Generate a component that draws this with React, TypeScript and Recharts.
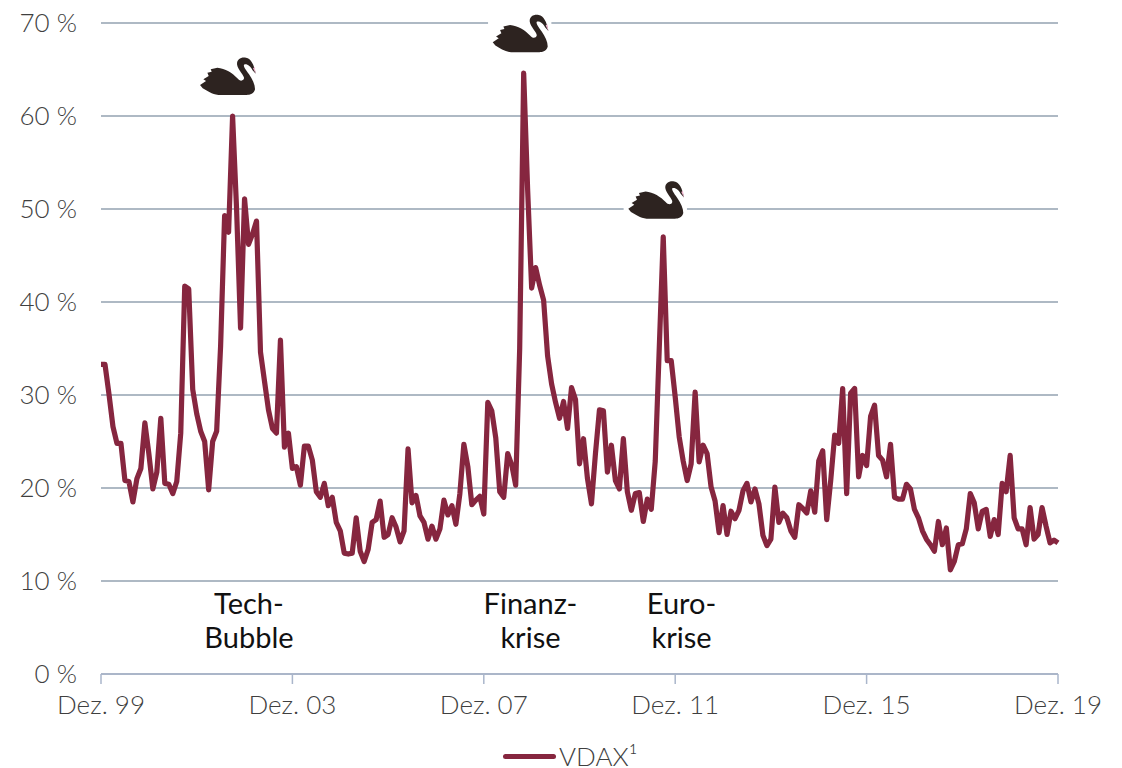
import React from 'react';
import { LineChart, Line, XAxis, YAxis, CartesianGrid, ReferenceDot, Legend } from 'recharts';

// monthly VDAX readings, Dez. 99 to Dez. 19
const vdax = [
  33.3, 33.3, 30.1, 26.6, 24.8, 24.8, 20.8, 20.7, 18.5, 21, 22.1, 27, 23.7, 19.9, 21.7, 27.5, 20.5, 20.4, 19.4, 20.7,
  25.9, 41.7, 41.4, 30.6, 28, 26.1, 25, 19.8, 25, 26.1, 35.3, 49.3, 47.5, 60, 50, 37.2, 51.1, 46.2, 47.3, 48.7,
  34.6, 31.5, 28.4, 26.4, 25.9, 35.9, 24.4, 25.9, 22.1, 22.3, 20.3, 24.5, 24.5, 23, 19.6, 19, 20.5, 18.1, 19, 16.3,
  15.4, 13, 12.9, 13, 16.8, 13.2, 12.1, 13.4, 16.3, 16.6, 18.6, 14.7, 15, 16.8, 15.8, 14.2, 15.4, 24.2, 18.4, 19.2,
  17, 16.3, 14.5, 15.9, 14.5, 15.6, 18.7, 17.1, 18.1, 16.1, 19.4, 24.7, 22.3, 18.2, 18.7, 19.1, 17.2, 29.2, 28.3, 25.4,
  19.6, 19, 23.7, 22.5, 20.3, 35, 64.6, 52, 41.5, 43.7, 41.8, 40.2, 34.2, 31.2, 29.2, 27.5, 29.3, 26.4, 30.8, 29.5,
  22.6, 25.3, 21, 18.3, 23.7, 28.4, 28.3, 21.7, 24.6, 20.8, 19.9, 25.3, 19.6, 17.6, 19.4, 19.5, 16.4, 18.8, 17.7, 22.9,
  35, 47, 33.7, 33.7, 29.8, 25.5, 22.9, 20.8, 22.6, 30.3, 22.8, 24.6, 23.7, 20.1, 18.6, 15.2, 18.1, 15, 17.5, 16.7,
  17.6, 19.7, 20.5, 18.5, 19.9, 18.3, 14.9, 13.8, 14.5, 20.1, 16.3, 17.3, 16.8, 15.4, 14.7, 18.2, 17.8, 17.3, 19.7, 17.4,
  22.9, 24, 16.6, 20.8, 25.7, 24.8, 30.7, 19.4, 30.2, 30.7, 21.2, 23.5, 22.4, 27.7, 28.9, 23.5, 23, 21.2, 24.7, 19,
  18.8, 18.8, 20.4, 19.9, 17.7, 16.8, 15.4, 14.5, 13.9, 13.2, 16.4, 13.9, 15.7, 11.2, 12.1, 13.9, 14, 15.6, 19.4, 18.4,
  15.6, 17.5, 17.7, 14.8, 16.6, 15, 20.5, 19.6, 23.5, 16.8, 15.6, 15.6, 13.9, 17.9, 14.5, 15, 17.9, 15.9, 14.1, 14.4,
  14.1,
];

const xTicks = [0, 48, 96, 144, 192, 240];
const xLabels = ['Dez. 99', 'Dez. 03', 'Dez. 07', 'Dez. 11', 'Dez. 15', 'Dez. 19'];
const yTicks = [0, 10, 20, 30, 40, 50, 60, 70];

// where the swans sit, as [month, percent]
const swans = [
  [31.7, 64.3],
  [105.1, 68.9],
  [139.1, 51],
];

// crisis captions, as [month, percent, text]
const captions: [number, number, string][] = [
  [37.1, 7.7, 'Tech-'],
  [37.1, 4, 'Bubble'],
  [107.7, 7.7, 'Finanz-'],
  [107.7, 4, 'krise'],
  [145.6, 7.7, 'Euro-'],
  [145.6, 4, 'krise'],
];

const data = vdax.map((value, month) => ({ month, value }));

const FONT = 'Lato, "Open Sans", sans-serif';
const LINE_COLOR = '#86263f';
const TEXT_COLOR = '#3f3f3f';

const SwanShape = ({ cx, cy }: any) => (
  <g transform={`translate(${cx - 40.7},${cy - 28.3}) scale(0.3333)`}>
    <rect x={26} y={0} width={190} height={165} fill="#fff" />
    <path
      d="M40 112 L58 100 L50 95 L66 85 L62 75 L75 72 L72 65 L92 60 C115 62 138 76 152 92 C160 102 170 100 172 92 C174 84 153 66 151 50 C150 33 165 27 178 30 C193 33 202 50 207 78 L197 67 C192 56 182 48 173 50 C168 54 176 64 187 80 C197 95 205 110 205 125 C202 139 190 142 180 142 L95 142 C75 140 62 130 48 122 Z"
      fill="#2d2320"
    />
    <path d="M199 62 L207 78 L204 58 Z" fill="#f2b6d0" />
  </g>
);

const CaptionShape = ({ cx, cy, text }: any) => (
  <text x={cx} y={cy} textAnchor="middle" dominantBaseline="central" fontFamily={FONT} fontSize={29} fill="#111">
    {text}
  </text>
);

const LegendContent = () => (
  <div style={{ position: 'relative', height: 34, fontFamily: FONT, fontWeight: 300, fontSize: 26, color: TEXT_COLOR }}>
    <span style={{ position: 'absolute', left: 503, top: 20, width: 53, height: 5, borderRadius: 3, background: LINE_COLOR }} />
    <span style={{ position: 'absolute', left: 559, top: 11, lineHeight: '22px' }}>VDAX¹</span>
  </div>
);

const App: React.FC = () => (
  <div style={{ position: 'absolute', left: 0, top: 0, width: 1122, height: 768, background: '#fff' }}>
    <LineChart width={1122} height={768} data={data} margin={{ top: 23, right: 64, bottom: 0, left: 0 }}>
      <CartesianGrid horizontal vertical={false} stroke="#93a2b0" strokeWidth={1.5} syncWithTicks />
      <XAxis
        dataKey="month"
        type="number"
        domain={[0, 240]}
        ticks={xTicks}
        interval={0}
        tickFormatter={(v: number) => xLabels[xTicks.indexOf(v)]}
        tick={{ fontSize: 26, fontWeight: 300, fill: TEXT_COLOR, fontFamily: FONT }}
        tickSize={10}
        tickMargin={12}
        stroke="#aab6cb"
        strokeWidth={1.5}
        height={60}
      />
      <YAxis
        type="number"
        domain={[0, 70]}
        ticks={yTicks}
        interval={0}
        width={101}
        tickFormatter={(v: number) => `${v} %`}
        tick={{ fontSize: 26, fontWeight: 300, fill: TEXT_COLOR, fontFamily: FONT }}
        axisLine={false}
        tickLine={false}
        tickMargin={18}
      />
      <Legend verticalAlign="bottom" height={34} wrapperStyle={{ left: 0, width: 1122, bottom: 0 }} content={<LegendContent />} />
      <Line
        dataKey="value"
        name="VDAX¹"
        type="linear"
        stroke={LINE_COLOR}
        strokeWidth={5.2}
        strokeLinejoin="round"
        dot={false}
        isAnimationActive={false}
      />
      {swans.map(([x, y]) => (
        <ReferenceDot key={x} x={x} y={y} shape={<SwanShape />} ifOverflow="visible" />
      ))}
      {captions.map(([x, y, text]) => (
        <ReferenceDot key={`${x}-${y}`} x={x} y={y} shape={<CaptionShape text={text} />} ifOverflow="visible" />
      ))}
    </LineChart>
  </div>
);

export default App;
